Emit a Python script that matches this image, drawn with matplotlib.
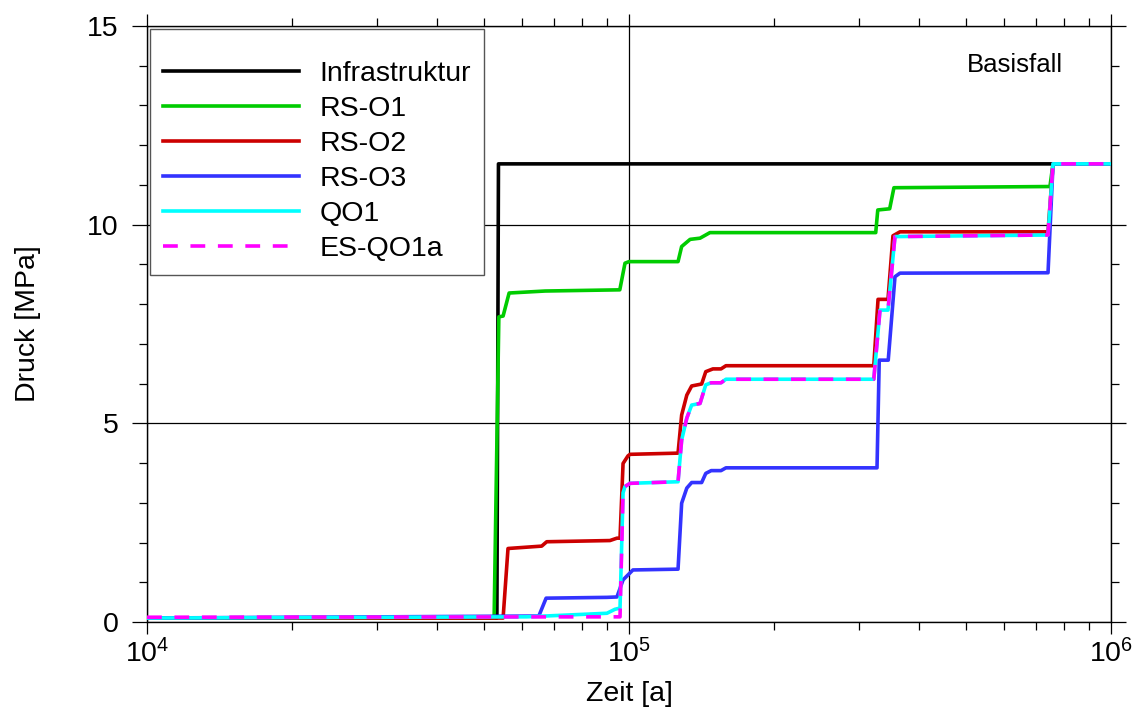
import matplotlib
matplotlib.use("Agg")
import matplotlib.pyplot as plt
from matplotlib.ticker import LogLocator, MultipleLocator, LogFormatterSciNotation, NullFormatter

plt.rcParams['font.family'] = ['Liberation Sans', 'DejaVu Sans']
plt.rcParams['mathtext.default'] = 'regular'

# ---- data (time in years, pressure in MPa) ----
t_infra = [1e4, 53200, 53600, 1e6]
p_infra = [0.1, 0.1, 11.53, 11.53]

t_rs_o1 = [1e4, 52500, 53700, 54800, 56400, 67000, 95700, 98100, 100000, 126400,
           128600, 133900, 140400, 147200, 325000, 328200, 347400, 354500, 747000, 758000, 1e6]
p_rs_o1 = [0.1, 0.1, 7.68, 7.70, 8.28, 8.33, 8.36, 9.03, 9.07, 9.07,
           9.45, 9.63, 9.66, 9.80, 9.80, 10.37, 10.40, 10.93, 10.96, 11.53, 11.53]

t_rs_o2 = [1e4, 54800, 56100, 65900, 67500, 91300, 94400, 95800, 97200, 99500, 100500,
           126400, 128600, 131800, 134900, 141500, 144300, 149300, 155200, 158900,
           322000, 328600, 344600, 352900, 364900, 740200, 758100, 1e6]
p_rs_o2 = [0.1, 0.1, 1.85, 1.91, 2.02, 2.05, 2.11, 2.11, 3.99, 4.18, 4.22,
           4.25, 5.21, 5.71, 5.94, 5.99, 6.30, 6.37, 6.37, 6.45,
           6.45, 8.12, 8.12, 9.72, 9.82, 9.82, 11.53, 11.53]

t_rs_o3 = [1e4, 65000, 67300, 90000, 94400, 97200, 101900, 126400, 128600, 131800,
           134900, 141500, 144300, 148100, 155200, 158900, 327000, 330500, 345000,
           356300, 364900, 740200, 758100, 1e6]
p_rs_o3 = [0.1, 0.15, 0.60, 0.62, 0.63, 1.06, 1.31, 1.33, 2.99, 3.37,
           3.51, 3.51, 3.74, 3.81, 3.81, 3.88, 3.88, 6.59, 6.59,
           8.69, 8.78, 8.79, 11.53, 11.53]

t_qo1 = [1e4, 61400, 90000, 93500, 95800, 97200, 98100, 100500, 126400, 128600,
         131800, 134900, 140400, 144300, 148100, 155200, 158900, 322000, 331700,
         344600, 356300, 740200, 758100, 1e6]
p_qo1 = [0.1, 0.13, 0.22, 0.32, 0.35, 3.25, 3.41, 3.49, 3.53, 4.58,
         5.13, 5.46, 5.50, 5.97, 6.02, 6.02, 6.11, 6.11, 7.85,
         7.85, 9.70, 9.74, 11.53, 11.53]

t_es_qo1a = [1e4, 95800, 97200, 98100, 100500, 126400, 128600,
             131800, 134900, 140400, 144300, 148100, 155200, 158900, 322000, 331700,
             344600, 356300, 740200, 758100, 1e6]
p_es_qo1a = [0.12, 0.13, 3.25, 3.41, 3.49, 3.53, 4.58,
             5.13, 5.46, 5.50, 5.97, 6.02, 6.02, 6.11, 6.11, 7.85,
             7.85, 9.70, 9.74, 11.53, 11.53]

labels = ['Infrastruktur', 'RS-O1', 'RS-O2', 'RS-O3', 'QO1', 'ES-QO1a']
xticks = [1e4, 1e5, 1e6]
yticks = [0, 5, 10, 15]

fig = plt.figure(figsize=(11.37, 7.13), dpi=100)
ax = fig.add_axes([147/1137, 1-622/713, 964/1137, 596/713])

lw = 2.6
ax.plot(t_infra, p_infra, color='black', lw=lw, label=labels[0], zorder=3)
ax.plot(t_rs_o1, p_rs_o1, color='#00cc00', lw=lw, label=labels[1], zorder=3)
ax.plot(t_rs_o2, p_rs_o2, color='#cc0000', lw=lw, label=labels[2], zorder=3)
ax.plot(t_rs_o3, p_rs_o3, color='#3333ff', lw=lw, label=labels[3], zorder=3)
ax.plot(t_qo1, p_qo1, color='#00ffff', lw=lw, label=labels[4], zorder=3)
ax.plot(t_es_qo1a, p_es_qo1a, color='#ff00ff', lw=lw, label=labels[5], zorder=3,
        dashes=(4.1, 3.5))

ax.set_xscale('log')
ax.set_xlim(1e4, 1e6)
ax.set_ylim(0, 15)
ax.set_xticks(xticks)
ax.xaxis.set_major_formatter(LogFormatterSciNotation())
ax.xaxis.set_minor_locator(LogLocator(base=10, subs=range(2, 10)))
ax.xaxis.set_minor_formatter(NullFormatter())
ax.set_yticks(yticks)
ax.yaxis.set_minor_locator(MultipleLocator(1))

ax.grid(True, which='major', color='black', lw=0.9, zorder=1)
for s in ax.spines.values():
    s.set_linewidth(1.0)

ax.tick_params(which='both', direction='out', top=True, right=True,
               labelsize=20.5, width=0.9, colors='black')
ax.tick_params(axis='y', which='major', length=10.5, pad=10)
ax.tick_params(axis='y', which='minor', length=6)
ax.tick_params(axis='x', which='major', length=8.5, pad=4)
ax.tick_params(axis='x', which='minor', length=6)

ax.set_xlabel('Zeit [a]', fontsize=20.5, labelpad=9)
ax.set_ylabel('Druck [MPa]', fontsize=20.5, labelpad=33)

ax.text(0.900, 0.934, 'Basisfall', transform=ax.transAxes, fontsize=18.5,
        ha='center', va='center')

leg = ax.legend(loc='upper left', fontsize=20.5, handlelength=4.8,
                handletextpad=0.7, labelspacing=0.32, borderpad=0.45,
                borderaxespad=0.1, fancybox=False, framealpha=1,
                edgecolor='#555555', title=' ', title_fontsize=8)
leg.get_frame().set_linewidth(1.0)
leg.set_zorder(5)

fig.savefig('out.png', dpi=100)
